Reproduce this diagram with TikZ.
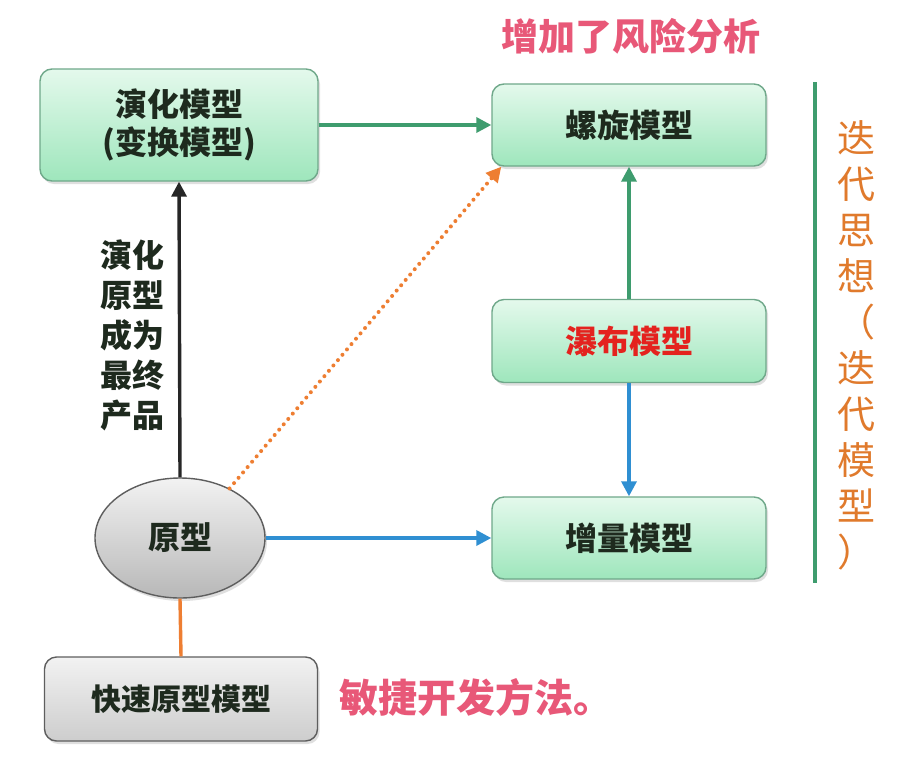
\documentclass[tikz,border=0pt]{standalone}
\usepackage{fontspec}
\setmainfont{Noto Sans CJK SC}
\usetikzlibrary{arrows.meta,shadows,shapes.geometric}
\definecolor{gbord}{HTML}{6FA88A}
\definecolor{gtop}{HTML}{E4F9EC}
\definecolor{gbot}{HTML}{9EE6BC}
\definecolor{greyb}{HTML}{5E5E5E}
\definecolor{greyt}{HTML}{F2F2F2}
\definecolor{greyd}{HTML}{CDCDCD}
\definecolor{pinkt}{HTML}{E85878}
\definecolor{oranget}{HTML}{E07A2C}
\definecolor{greenl}{HTML}{3E9C6E}
\definecolor{bluel}{HTML}{2F8FD2}
\definecolor{orangel}{HTML}{EE7E32}
\definecolor{redt}{HTML}{E4221E}
\definecolor{darkt}{HTML}{1E2A1E}
\tikzset{
  gbox/.style={draw=gbord, line width=1.4pt, rounded corners=12pt, top color=gtop, bottom color=gbot,
    drop shadow={shadow xshift=2pt, shadow yshift=-3pt, opacity=0.25},
    font=\fontsize{32}{38}\selectfont\bfseries, text=darkt, align=center, inner sep=0pt},
  greybox/.style={draw=greyb, line width=1.4pt, rounded corners=12pt, top color=greyt, bottom color=greyd,
    drop shadow={shadow xshift=2pt, shadow yshift=-3pt, opacity=0.25},
    font=\fontsize{30}{36}\selectfont\bfseries, text=darkt, align=center, inner sep=0pt},
  arr/.style={line width=3.4pt, -{Triangle[length=15pt,width=15pt]}},
}
\begin{document}
\begin{tikzpicture}[x=1pt,y=-1pt]
\useasboundingbox (0,0) rectangle (897,761);
\fill[white] (0,0) rectangle (897,761);

\node[gbox, minimum width=278pt, minimum height=112pt] (evo) at (179,125) {演化模型\\(变换模型)};
\node[gbox, minimum width=274pt, minimum height=82pt] (spiral) at (629,125) {螺旋模型};
\node[gbox, minimum width=274pt, minimum height=83pt, text=redt] (water) at (629,341) {瀑布模型};
\node[gbox, minimum width=274pt, minimum height=82pt] (incr) at (629,538) {增量模型};
\node[ellipse, draw=greyb, line width=1.4pt, top color=greyt, bottom color=black!28,
  drop shadow={shadow xshift=2pt, shadow yshift=-3pt, opacity=0.25},
  minimum width=170pt, minimum height=120pt, inner sep=0pt,
  font=\fontsize{32}{38}\selectfont\bfseries, text=darkt] (proto) at (180,538) {原型};
\node[greybox, minimum width=273pt, minimum height=84pt] (rapid) at (181,699) {快速原型模型};

\node[font=\fontsize{32}{40}\selectfont\bfseries, text=darkt, align=center] (lbl) at (132,335)
  {演化\\原型\\成为\\最终\\产品};
\node[font=\fontsize{37}{44}\selectfont\bfseries, text=pinkt] (risk) at (631,36) {增加了风险分析};
\node[font=\fontsize{39}{46}\selectfont\bfseries, text=pinkt] (agile) at (476,697) {敏捷开发方法。};
\node[font=\fontsize{38}{46}\selectfont, text=oranget, align=center] (iter) at (856,345)
  {迭\\代\\思\\想\\（\\迭\\代\\模\\型\\）};

\coordinate (lt) at (815,82);
\coordinate (lb) at (815,583);
\draw[greenl, line width=4pt] (lt) -- (lb);

\draw[arr, greenl] (evo.east) -- (spiral.west);
\draw[arr, black!85] (proto.north) -- (evo.south);
\draw[arr, greenl] (water.north) -- (spiral.south);
\draw[arr, bluel] (water.south) -- (incr.north);
\draw[arr, bluel] (proto.east) -- (incr.west);
\draw[orangel, line width=4pt, line cap=round, dash pattern=on 0pt off 7pt,
  -{Triangle[length=15pt,width=15pt]}] (proto.45) -- ([xshift=10pt]spiral.south west);
\draw[orangel, line width=3.4pt] (rapid.north) -- (proto.south);
\end{tikzpicture}
\end{document}
